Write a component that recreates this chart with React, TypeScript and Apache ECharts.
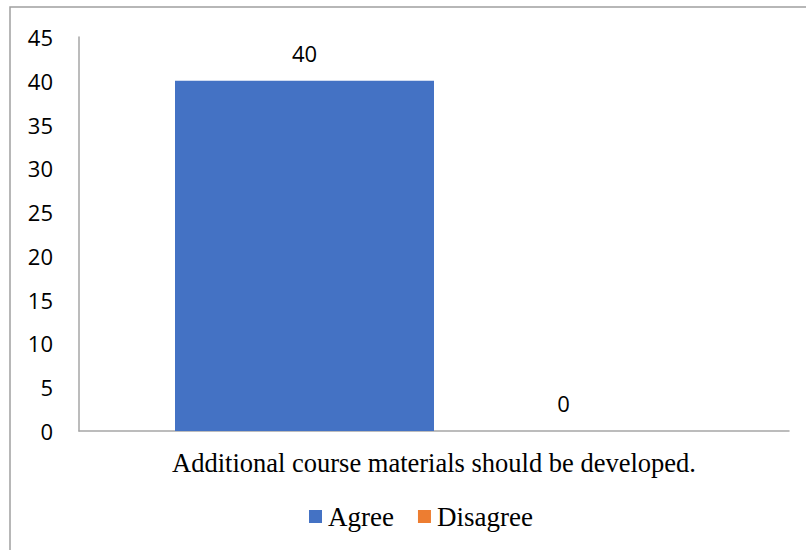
import React, { useEffect, useRef } from "react";
import * as echarts from "echarts";

const categories = ["Additional course materials should be developed."];
const agreeValues = [40];
const disagreeValues = [0];
const seriesNames = ["Agree", "Disagree"];
const yMin = 0;
const yMax = 45;
const yInterval = 5;

export default function App() {
  const ref = useRef<HTMLDivElement>(null);
  useEffect(() => {
    if (!ref.current) return;
    const chart = echarts.init(ref.current, null, { renderer: "svg" });
    const labelStyle = {
      show: true,
      position: "top" as const,
      distance: 17,
      fontFamily: "Open Sans",
      fontSize: 22,
      color: "#000",
    };
    chart.setOption({
      animation: false,
      backgroundColor: "#fff",
      graphic: [
        {
          type: "rect",
          shape: { x: 10, y: 7, width: 820, height: 560 },
          style: { fill: "none", stroke: "#A0A0A0", lineWidth: 1.5 },
          silent: true,
        },
      ],
      grid: { left: 79, right: 17, top: 37, bottom: 119, containLabel: false },
      legend: {
        data: seriesNames,
        left: 304,
        top: 498,
        itemWidth: 13,
        itemHeight: 13,
        itemGap: 24,
        icon: "rect",
        textStyle: { fontFamily: "Liberation Serif", fontSize: 27, color: "#000", padding: [0, 0, 0, 1] },
      },
      xAxis: {
        type: "category",
        data: categories,
        axisLine: { show: true, lineStyle: { color: "#A6A6A6", width: 1.5 } },
        axisTick: { show: false },
        axisLabel: {
          margin: 18,
          fontFamily: "Liberation Serif",
          fontSize: 26.5,
          color: "#000",
        },
      },
      yAxis: {
        type: "value",
        min: yMin,
        max: yMax,
        interval: yInterval,
        axisLine: { show: true, lineStyle: { color: "#A6A6A6", width: 1.5 } },
        axisTick: { show: false },
        splitLine: { show: false },
        axisLabel: {
          margin: 26,
          fontFamily: "Open Sans",
          fontSize: 22,
          color: "#000",
        },
      },
      series: [
        {
          name: seriesNames[0],
          type: "bar",
          data: agreeValues,
          barWidth: 259,
          barGap: "0%",
          itemStyle: { color: "#4472C4" },
          label: labelStyle,
        },
        {
          name: seriesNames[1],
          type: "bar",
          data: disagreeValues,
          barWidth: 259,
          barGap: "0%",
          itemStyle: { color: "#ED7D31" },
          label: labelStyle,
        },
      ],
    });
    return () => chart.dispose();
  }, []);
  return (
    <div
      ref={ref}
      style={{ position: "absolute", left: 0, top: 0, width: 806, height: 550 }}
    />
  );
}
